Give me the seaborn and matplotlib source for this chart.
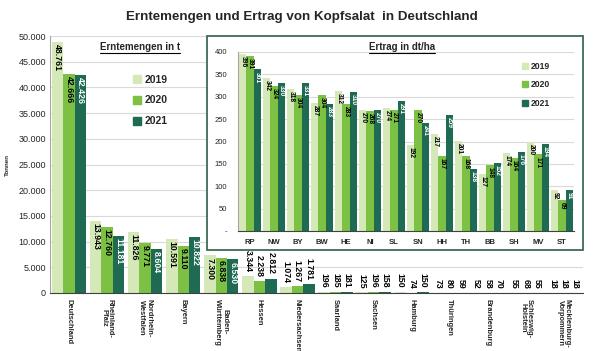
import numpy as np
import pandas as pd
import matplotlib
matplotlib.use("Agg")
import matplotlib.pyplot as plt
from matplotlib.patches import Patch, Rectangle
from matplotlib.lines import Line2D
import seaborn as sns

# Erntemengen in t
laender = ["Deutschland", "Rheinland-\nPfalz", "Nordrhein-\nWestfalen", "Bayern",
           "Baden-\nWürttemberg", "Hessen", "Niedersachsen", "Saarland", "Sachsen",
           "Hamburg", "Thüringen", "Brandenburg", "Schleswig-\nHolstein",
           "Mecklenburg-\nVorpommern"]
menge_2019 = [48761, 13943, 11826, 10591, 7300, 3344, 1074, 196, 125, 150, 73, 52, 55, 18]
menge_2020 = [42666, 12760, 9771, 9110, 6838, 2238, 1267, 185, 196, 74, 80, 58, 68, 18]
menge_2021 = [42426, 11181, 8604, 10822, 6530, 2812, 1781, 181, 158, 150, 59, 70, 55, 18]

# Ertrag in dt/ha
kuerzel = ["RP", "NW", "BY", "BW", "HE", "NI", "SL", "SN", "HH", "TH", "BB", "SH", "MV", "ST"]
ertrag_2019 = [396, 342, 318, 287, 312, 270, 274, 192, 217, 201, 127, 174, 200, 92]
ertrag_2020 = [391, 324, 304, 304, 283, 268, 271, 270, 167, 168, 148, 164, 171, 69]
ertrag_2021 = [361, 330, 331, 283, 310, 270, 291, 241, 259, 138, 152, 176, 194, 91]

jahre = ["2019", "2020", "2021"]
farben = ["#d5e9b8", "#7cc143", "#1f6a52"]

FONT = ["Liberation Sans", "DejaVu Sans"]

menge = pd.DataFrame({
    "Land": laender * 3,
    "Jahr": np.repeat(jahre, len(laender)),
    "Wert": menge_2019 + menge_2020 + menge_2021,
})
ertrag = pd.DataFrame({
    "Land": kuerzel * 3,
    "Jahr": np.repeat(jahre, len(kuerzel)),
    "Wert": ertrag_2019 + ertrag_2020 + ertrag_2021,
})

sns.set_style("white")
plt.rcParams["font.family"] = FONT


def de(v):
    return f"{v:,}".replace(",", ".")


fig = plt.figure(figsize=(6, 3.51), dpi=100)

# main chart
ax = fig.add_axes([50 / 600, 58 / 351, 533 / 600, 257 / 351])
sns.barplot(data=menge, x="Land", y="Wert", hue="Jahr", palette=farben,
            saturation=1, width=0.9, linewidth=0, legend=False, ax=ax)
ax.set_ylim(0, 50000)
ax.set_xlim(-0.5, len(laender) - 0.5)
ax.set_yticks(np.arange(0, 50001, 5000))
ax.set_yticklabels([de(v) for v in range(0, 50001, 5000)], fontsize=6.5)
ax.yaxis.grid(True, color="#d9d9d9", lw=0.8)
ax.set_axisbelow(True)
for s in ["top", "right"]:
    ax.spines[s].set_visible(False)
ax.spines["left"].set_color("#a6a6a6")
ax.spines["bottom"].set_color("#404040")
ax.set_xlabel("")
ax.set_ylabel("Tonnen", fontsize=4.5, fontweight="bold", labelpad=6)
ax.set_xticks(range(len(laender)))
ax.set_xticklabels(laender, rotation=-90, fontsize=5.4, fontweight="bold",
                   va="top", ha="center", linespacing=0.95)
ax.set_xticks(np.arange(0.5, len(laender) - 1, 1), minor=True)
ax.tick_params(axis="x", which="major", length=0, pad=4)
ax.tick_params(axis="x", which="minor", length=4, color="#404040")
ax.tick_params(axis="y", length=0, pad=3)

werte = [menge_2019, menge_2020, menge_2021]
for i, cont in enumerate(ax.containers):
    for bar, v in zip(cont, werte[i]):
        x = bar.get_x() + bar.get_width() / 2
        h = bar.get_height()
        if h > 5000:
            ax.annotate(de(v), (x, h), xytext=(0, -1.5), textcoords="offset points",
                        rotation=-90, ha="center", va="top", fontsize=6.3,
                        fontweight="bold", color="white" if i == 2 else "black")
        else:
            ax.annotate(de(v), (x, h), xytext=(0, 3), textcoords="offset points",
                        rotation=-90, ha="center", va="bottom", fontsize=6.3,
                        fontweight="bold", color="black")

handles = [Patch(color=c, label=j) for c, j in zip(farben, jahre)]
ax.legend(handles=handles, loc="upper left", bbox_to_anchor=(0.155, 0.85),
          frameon=False, borderpad=0, borderaxespad=0, handlelength=0.8,
          handleheight=0.8, handletextpad=0.35, labelspacing=1.05,
          prop={"family": FONT, "weight": "bold", "size": 7.5})

t1 = fig.text(140 / 600, 1 - 47 / 351, "Erntemengen in t", ha="center", va="center",
              fontsize=7, fontweight="bold")

# inset frame
fig.patches.append(Rectangle((207 / 600, 1 - 250 / 351), 376 / 600, 214 / 351,
                             transform=fig.transFigure, facecolor="white",
                             edgecolor="#3d6b55", lw=1.3, zorder=2))

ax2 = fig.add_axes([238 / 600, 1 - 231 / 351, 336 / 600, 179 / 351], zorder=3)
ax2.patch.set_alpha(0)
sns.barplot(data=ertrag, x="Land", y="Wert", hue="Jahr", palette=farben,
            saturation=1, width=0.88, linewidth=0, legend=False, ax=ax2)
ax2.set_ylim(0, 400)
ax2.set_xlim(-0.5, len(kuerzel) - 0.5)
ax2.set_yticks(np.arange(0, 401, 50))
ax2.set_yticklabels(["-"] + [str(v) for v in range(50, 401, 50)], fontsize=5.5)
ax2.yaxis.grid(True, color="#d9d9d9", lw=0.8)
ax2.set_axisbelow(True)
for s in ["top", "right"]:
    ax2.spines[s].set_visible(False)
ax2.spines["left"].set_color("#a6a6a6")
ax2.spines["bottom"].set_color("#404040")
ax2.set_xlabel("")
ax2.set_ylabel("")
ax2.set_xticks(range(len(kuerzel)))
ax2.set_xticklabels(kuerzel, fontsize=5.5, fontweight="bold")
ax2.tick_params(axis="x", length=0, pad=6)
ax2.tick_params(axis="y", length=0, pad=8)

werte2 = [ertrag_2019, ertrag_2020, ertrag_2021]
for i, cont in enumerate(ax2.containers):
    for bar, v in zip(cont, werte2[i]):
        x = bar.get_x() + bar.get_width() / 2
        ax2.annotate(str(v), (x, bar.get_height()), xytext=(0, -1.5),
                     textcoords="offset points", rotation=-90, ha="center", va="top",
                     fontsize=4.8, fontweight="bold",
                     color="white" if i == 2 else "black")

ax2.legend(handles=handles, loc="upper left", bbox_to_anchor=(0.845, 0.945),
           frameon=False, borderpad=0, borderaxespad=0, handlelength=0.7,
           handleheight=0.7, handletextpad=0.3, labelspacing=1.1,
           prop={"family": FONT, "weight": "bold", "size": 6.2})

t2 = fig.text(402 / 600, 1 - 47 / 351, "Ertrag in dt/ha", ha="center", va="center",
              fontsize=7, fontweight="bold", zorder=4)

fig.text(302 / 600, 1 - 17 / 351, "Erntemengen und Ertrag von Kopfsalat  in Deutschland",
         ha="center", va="center", fontsize=9.6, fontweight="bold")

# underline the two sub-titles
fig.canvas.draw()
r = fig.canvas.get_renderer()
for t in [t1, t2]:
    bb = t.get_window_extent(r).transformed(fig.transFigure.inverted())
    fig.lines.append(Line2D([bb.x0, bb.x1], [bb.y0 - 0.003, bb.y0 - 0.003],
                            transform=fig.transFigure, color="black", lw=0.8, zorder=5))

fig.savefig("out.png", dpi=100)
